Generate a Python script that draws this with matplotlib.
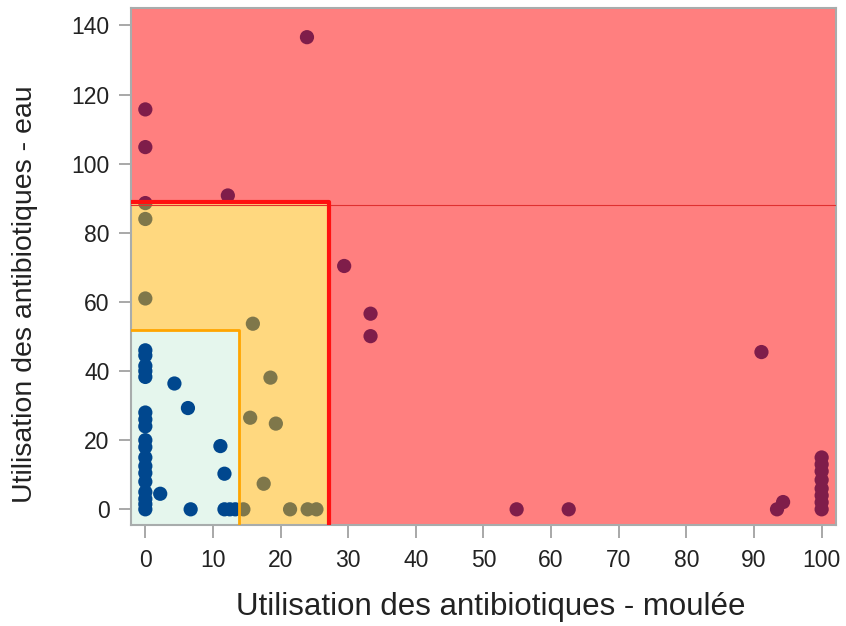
import matplotlib
matplotlib.use("Agg")
import matplotlib.pyplot as plt
from matplotlib.patches import Polygon

plt.rcParams['font.family'] = ['Liberation Sans', 'DejaVu Sans']

# moulee (x) vs eau (y) antibiotic use
x_moulee = [23.9, 0, 0, 12.2, 0, 29.4, 33.3, 33.3, 54.9, 62.6, 91.1, 93.4, 94.3,
            100, 100, 100, 100, 100, 100, 100, 100,
            0, 0, 15.9, 18.5, 15.5, 19.3, 17.5, 14.5, 21.4, 24.0, 25.3,
            0, 0, 0, 0, 0, 0, 0, 0, 0, 0, 0, 0, 0, 0, 0, 0, 0, 0,
            4.3, 6.3, 11.1, 11.7, 2.2, 6.7, 11.7, 12.5, 13.3]
y_eau = [136.6, 115.7, 104.8, 90.8, 88.6, 70.4, 56.6, 50.1, 0, 0, 45.5, 0, 2.1,
         15, 13, 11, 8.5, 6, 4, 2, 0,
         84, 61, 53.7, 38.1, 26.5, 24.8, 7.4, 0, 0, 0, 0,
         46, 44.5, 41.5, 40, 38.3, 28, 26, 24, 20, 18, 15, 12.5, 10.5, 8, 5, 3, 1.5, 0,
         36.4, 29.3, 18.3, 10.3, 4.5, 0, 0, 0, 0]

# seuils des zones
x_vert, y_vert = 13.9, 51.8
x_jaune, y_jaune = 27.1, 89.0
y_rouge = 88.0

xmin, xmax = -2.1, 102.1
ymin, ymax = -4.6, 145.0

fig = plt.figure(figsize=(8.46, 6.26), dpi=100)
ax = fig.add_axes([0.155, 0.161, 0.833, 0.826])

ax.scatter(x_moulee, y_eau, s=105, color='#003C96', edgecolors='none', zorder=1)

# zones transparentes par dessus les points
vert = Polygon([(xmin, ymin), (x_vert, ymin), (x_vert, y_vert), (xmin, y_vert)],
               closed=True, facecolor='#00B050', alpha=0.1, edgecolor='none', zorder=2)
jaune = Polygon([(x_vert, ymin), (x_jaune, ymin), (x_jaune, y_jaune), (xmin, y_jaune),
                 (xmin, y_vert), (x_vert, y_vert)],
                closed=True, facecolor='#FFB200', alpha=0.5, edgecolor='none', zorder=2)
rouge = Polygon([(x_jaune, ymin), (xmax, ymin), (xmax, ymax), (xmin, ymax),
                 (xmin, y_jaune), (x_jaune, y_jaune)],
                closed=True, facecolor='#FF0000', alpha=0.5, edgecolor='none', zorder=2)
ax.add_patch(vert)
ax.add_patch(jaune)
ax.add_patch(rouge)

ax.plot([xmin, xmax], [y_rouge, y_rouge], color='#E03030', lw=0.8, zorder=3)
ax.plot([xmin, x_vert, x_vert], [y_vert, y_vert, ymin], color='#FFA500', lw=2, zorder=3)
ax.plot([xmin, x_jaune, x_jaune], [y_jaune, y_jaune, ymin], color='#FF1010', lw=3, zorder=3)

ax.set_xlim(xmin, xmax)
ax.set_ylim(ymin, ymax)
ax.set_xticks(range(0, 101, 10))
ax.set_yticks(range(0, 141, 20))
for s in ax.spines.values():
    s.set_color('#A8ACAC')
    s.set_linewidth(1.5)
ax.tick_params(colors='#999999', length=9, width=1.2, labelsize=16.5, labelcolor='#222222', pad=6.5)
ax.tick_params(axis='x', pad=8)
ax.set_xlabel("Utilisation des antibiotiques - moulée", fontsize=22.5, color='#222222')
ax.set_ylabel("Utilisation des antibiotiques - eau", fontsize=20.5, color='#222222')
ax.xaxis.set_label_coords(0.511, -0.13)
ax.yaxis.set_label_coords(-0.132, 0.447)

fig.savefig("out.png", dpi=100)
